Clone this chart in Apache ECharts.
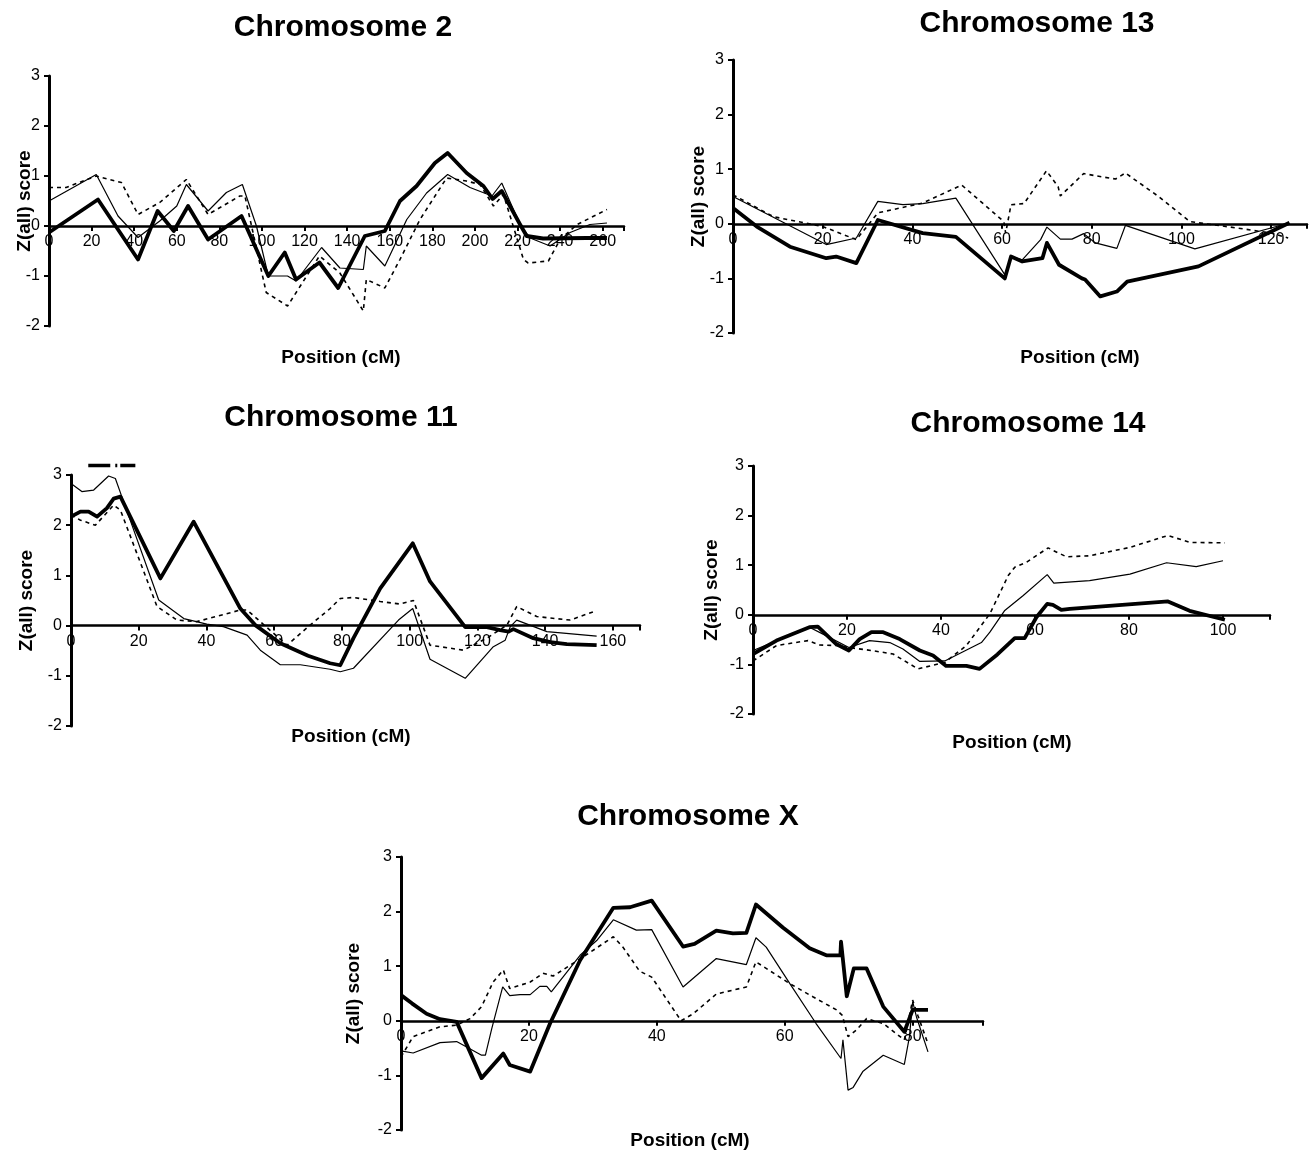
<!DOCTYPE html>
<html>
<head>
<meta charset="utf-8">
<script src="https://cdn.jsdelivr.net/npm/echarts@6.0.0/dist/echarts.min.js"></script>
<style>
html,body{margin:0;padding:0;background:#fff;}
#chart{width:1310px;height:1151px;}
</style>
</head>
<body>
<div id="chart"></div>
<script>
// ---------- DATA: [position (cM), Z(all) score] ----------
const chr2Thick = [[0,-0.13],[23,0.53],[41.8,-0.67],[51,0.3],[58.6,-0.1],[65.3,0.4],[74.7,-0.27],[90.4,0.2],[103,-1.0],[110.7,-0.53],[116,-1.07],[127,-0.73],[135.8,-1.24],[148.3,-0.2],[157.7,-0.1],[164.8,0.5],[172.6,0.8],[181.2,1.26],[187.2,1.46],[196.1,1.06],[204,0.8],[208.3,0.54],[212.6,0.7],[221.2,0.03],[224.3,-0.2],[232,-0.25],[252.5,-0.24],[262,-0.24]];
const chr2Thin = [[0,0.5],[22.2,1.03],[32.4,0.2],[41.8,-0.23],[52,0.1],[60,0.4],[64.5,0.83],[74.7,0.3],[83.3,0.67],[90.8,0.83],[97.4,0],[103,-1.0],[112,-1.0],[116,-1.1],[128,-0.43],[136.6,-0.84],[147.6,-0.87],[149,-0.4],[157.7,-0.8],[168,0.13],[177.3,0.66],[187.2,1.03],[197.7,0.77],[208,0.6],[212.6,0.86],[221.2,0.03],[225.9,-0.24],[235.3,-0.4],[244.7,-0.13],[254,0.03],[262,0.06]];
const chr2Dash = [[0,0.77],[8,0.77],[22.2,1.0],[34,0.87],[41.8,0.23],[52,0.47],[64.5,0.93],[74.7,0.23],[89.6,0.6],[92,0.6],[102,-1.33],[112,-1.6],[118,-1.2],[127,-0.6],[136.6,-0.94],[147.6,-1.7],[149,-1.07],[157.7,-1.24],[164.8,-0.67],[174.2,0.13],[186.7,0.96],[196,0.9],[202.4,0.83],[208.7,0.4],[213.4,0.63],[222.8,-0.67],[225,-0.74],[234.5,-0.7],[240,-0.27],[248,0.03],[262,0.33]];

const chr13Thick = [[0,0.29],[5.3,-0.05],[12.7,-0.42],[20.8,-0.63],[23,-0.6],[27.5,-0.72],[32.3,0.07],[42.3,-0.17],[49.7,-0.24],[60.6,-1.0],[62,-0.6],[64.5,-0.69],[69,-0.63],[70,-0.35],[72.7,-0.75],[77.8,-1.0],[78.5,-1.02],[81.9,-1.33],[85.6,-1.24],[87.9,-1.06],[103.8,-0.78],[124.1,0.02]];
const chr13Thin = [[0,0.5],[20.8,-0.38],[27.5,-0.26],[32.3,0.41],[37.9,0.35],[42.3,0.37],[49.7,0.47],[60.6,-0.93],[62,-0.6],[64.5,-0.66],[68.6,-0.29],[70,-0.06],[73,-0.28],[75.6,-0.28],[78.2,-0.18],[80.8,-0.35],[85.6,-0.45],[87.5,-0.03],[103,-0.46],[123.8,0.01]];
const chr13Dash = [[0,0.53],[9,0.13],[20,-0.05],[27.5,-0.29],[32.3,0.2],[42.3,0.38],[51,0.71],[60.4,0.04],[60.8,-0.17],[62,0.35],[64.9,0.37],[69.9,0.97],[72.5,0.68],[73,0.51],[78.2,0.92],[80.8,0.88],[85.3,0.82],[87.5,0.93],[94.9,0.5],[101.9,0.04],[112.7,-0.08],[120,-0.17],[123.8,-0.26]];

const chr11Thick = [[0,2.17],[2.8,2.27],[5.2,2.27],[7.7,2.17],[10.6,2.34],[12.6,2.53],[14.6,2.57],[26.4,0.94],[36.2,2.07],[50,0.34],[54.4,0.01],[61.8,-0.35],[70,-0.6],[76.5,-0.75],[79.5,-0.79],[83.4,-0.25],[91.3,0.74],[100.9,1.64],[106,0.88],[116.4,-0.03],[122.8,-0.03],[126.7,-0.09],[129.2,-0.12],[130.6,-0.07],[136.5,-0.25],[141.5,-0.33],[146.4,-0.37],[155.2,-0.39]];
const chr11Thin = [[0,2.83],[3.2,2.67],[6.7,2.7],[11.1,2.98],[13.1,2.93],[15,2.57],[25.9,0.51],[33.3,0.14],[40.1,0.03],[45,-0.02],[52,-0.19],[55.9,-0.49],[61.8,-0.78],[67.7,-0.78],[76.5,-0.87],[79.5,-0.92],[83.4,-0.85],[96.7,0.11],[100.9,0.34],[106,-0.67],[116.4,-1.05],[124.7,-0.42],[128.2,-0.29],[129.7,-0.02],[131.6,0.11],[140.5,-0.12],[155.2,-0.21]];
const chr11Dash = [[0,2.2],[2.8,2.1],[7.2,2.0],[12.6,2.4],[14.6,2.3],[25.4,0.38],[31.3,0.11],[37.2,0.08],[50,0.31],[52,0.31],[63.8,-0.39],[70.6,0.01],[76.5,0.34],[79.5,0.54],[83.4,0.56],[91.3,0.48],[97.2,0.43],[101.1,0.5],[106,-0.39],[115.9,-0.49],[122.8,-0.25],[128.7,0.01],[131.6,0.38],[137.5,0.18],[147.4,0.11],[155.2,0.3]];
const chr11Marker = [[5.1,3.19],[19,3.19]];

const chr14Thick = [[0,-0.79],[5,-0.52],[12,-0.25],[13.8,-0.24],[17.7,-0.59],[20.4,-0.72],[22.7,-0.49],[25.2,-0.35],[27.7,-0.35],[31.2,-0.49],[35.5,-0.72],[38.3,-0.82],[41.1,-1.03],[45.4,-1.03],[48.2,-1.09],[52,-0.8],[55.7,-0.47],[57.8,-0.47],[60.3,-0.05],[62.6,0.22],[63.8,0.2],[65.6,0.1],[67.4,0.12],[88.3,0.27],[92.9,0.08],[100.4,-0.1]];
const chr14Thin = [[0,-0.72],[12,-0.25],[14.9,-0.39],[20.4,-0.66],[24.8,-0.52],[29.1,-0.56],[31.9,-0.69],[35.5,-0.94],[40.8,-0.93],[48.6,-0.56],[50.4,-0.35],[53.5,0.08],[57.5,0.39],[62.6,0.81],[64,0.64],[71.6,0.69],[80.2,0.82],[88,1.05],[94.3,0.97],[100,1.09]];
const chr14Dash = [[0,-0.93],[5,-0.62],[11.7,-0.52],[14.2,-0.61],[17.7,-0.62],[20.4,-0.66],[25.2,-0.72],[29.8,-0.79],[35.1,-1.09],[40.8,-0.96],[45.4,-0.62],[50.4,0.02],[54.3,0.79],[55.7,0.96],[58.2,1.06],[62.8,1.35],[63.8,1.3],[66.7,1.17],[71.6,1.19],[80.2,1.36],[88.3,1.6],[92.9,1.46],[100.4,1.45]];

const chrXThick = [[0,0.47],[1.7,0.32],[4,0.13],[6.1,0.03],[8.7,-0.02],[12.6,-1.05],[16,-0.6],[17,-0.81],[20.2,-0.93],[23.3,-0.05],[28,1.11],[33.2,2.07],[35.8,2.08],[39.2,2.2],[44.1,1.36],[45.9,1.41],[49.3,1.65],[51.9,1.6],[54,1.61],[55.5,2.13],[59.7,1.71],[63.9,1.33],[66.5,1.2],[68.7,1.2],[68.8,1.45],[69.7,0.45],[70.8,0.96],[72.8,0.96],[75.4,0.26],[78.7,-0.2],[80,0.2],[82.4,0.2]];
const chrXThin = [[0,-0.55],[1.9,-0.59],[6.1,-0.4],[8.7,-0.38],[12.6,-0.63],[13.2,-0.63],[14.2,-0.14],[15.9,0.62],[17,0.46],[18.6,0.48],[20.2,0.48],[21.7,0.63],[22.8,0.63],[23.5,0.53],[28,1.2],[30.6,1.47],[33.2,1.85],[36.8,1.66],[39.2,1.67],[44.1,0.62],[49.3,1.14],[54,1.03],[55.5,1.52],[57.1,1.35],[60.8,0.68],[64.9,-0.05],[68.8,-0.69],[69.1,-0.35],[69.9,-1.27],[70.7,-1.22],[72.2,-0.93],[75.4,-0.63],[78.7,-0.8],[79.5,-0.29],[80,0.35],[80.6,0.07],[82.4,-0.57]];
const chrXDash = [[0,-0.66],[1.9,-0.29],[6.1,-0.11],[8.7,-0.08],[10.8,0.04],[12.6,0.26],[14.4,0.71],[16,0.93],[17,0.59],[20.2,0.71],[22.2,0.87],[23.8,0.82],[28.5,1.17],[33.2,1.54],[34.7,1.35],[37.3,0.91],[39.2,0.8],[43.8,0.0],[45.7,0.13],[49.3,0.49],[54,0.62],[55.5,1.08],[60.8,0.68],[64.4,0.44],[68.1,0.2],[69,0.1],[69.9,-0.29],[71.2,-0.17],[72.8,0.04],[75.4,-0.05],[78.7,-0.35],[80,0.38],[80.8,0.1],[82.4,-0.42]];

const titles = ['Chromosome 2','Chromosome 13','Chromosome 11','Chromosome 14','Chromosome X'];
const yName = 'Z(all) score';
const xName = 'Position (cM)';
const yMin = -2, yMax = 3, yStep = 1, xStep = 20;
const xMaxes = [270, 128, 168, 110, 91];

// ---------- LAYOUT ----------
const FONT = 'Arial, "Liberation Sans", Helvetica, sans-serif';
const layout = [
  {left:49, top:76, width:575, height:250, tx:343, ty:28, px:341, py:358, gap:15},
  {left:733, top:60, width:576, height:273, tx:1037, ty:24, px:1080, py:358, gap:25},
  {left:71, top:475, width:569, height:251, tx:341, ty:418, px:351, py:737, gap:35},
  {left:753, top:466, width:517, height:248, tx:1028, ty:424, px:1012, py:743, gap:32},
  {left:401, top:857, width:582, height:273, tx:688, ty:817, px:690, py:1141, gap:38}
];
const seriesSets = [
  [chr2Thin, chr2Dash, chr2Thick],
  [chr13Thin, chr13Dash, chr13Thick],
  [chr11Thin, chr11Dash, chr11Thick],
  [chr14Thin, chr14Dash, chr14Thick],
  [chrXThin, chrXDash, chrXThick]
];

const grid = [], xAxis = [], yAxis = [], series = [], graphic = [];
layout.forEach((L, i) => {
  grid.push({left:L.left, top:L.top, width:L.width, height:L.height, containLabel:false});
  // x axis drawn at Z = 0: shift the bottom axis up by the share of the range below zero
  const zeroOffset = -L.height * (0 - yMin) / (yMax - yMin);
  xAxis.push({
    type:'value', gridIndex:i, min:0, max:xMaxes[i], interval:xStep,
    position:'bottom', offset:zeroOffset,
    axisLine:{show:true, onZero:false, lineStyle:{color:'#000', width:2.5}},
    axisTick:{show:true, length:5, lineStyle:{color:'#000', width:2}},
    axisLabel:{color:'#000', fontSize:16, fontFamily:FONT, margin:8,
      formatter: v => (v % xStep === 0 ? String(v) : '')},
    splitLine:{show:false}
  });
  yAxis.push({
    type:'value', gridIndex:i, min:yMin, max:yMax, interval:yStep,
    axisLine:{show:true, onZero:false, lineStyle:{color:'#000', width:3}},
    axisTick:{show:true, length:5, lineStyle:{color:'#000', width:2}},
    axisLabel:{color:'#000', fontSize:16, fontFamily:FONT, margin:9},
    splitLine:{show:false},
    name:yName, nameLocation:'middle', nameRotate:90, nameGap:L.gap, nameMoveOverlap:false,
    nameTextStyle:{color:'#000', fontSize:19, fontWeight:'bold', fontFamily:FONT}
  });
  const [thin, dash, thick] = seriesSets[i];
  series.push({type:'line', xAxisIndex:i, yAxisIndex:i, data:thin, showSymbol:false, symbol:'none',
    lineStyle:{color:'#000', width:1.2}, animation:false, z:3});
  series.push({type:'line', xAxisIndex:i, yAxisIndex:i, data:dash, showSymbol:false, symbol:'none',
    lineStyle:{color:'#000', width:1.6, type:[4,4]}, animation:false, z:3});
  series.push({type:'line', xAxisIndex:i, yAxisIndex:i, data:thick, showSymbol:false, symbol:'none',
    lineStyle:{color:'#000', width:3.8, join:'round'}, animation:false, z:4});
  graphic.push({type:'text', x:L.tx, y:L.ty, style:{text:titles[i], fill:'#000',
    font:'bold 30px ' + FONT, textAlign:'center', textVerticalAlign:'middle'}});
  graphic.push({type:'text', x:L.px, y:L.py, style:{text:xName, fill:'#000',
    font:'bold 19px ' + FONT, textAlign:'center', textVerticalAlign:'middle'}});
});
// significance marker above Chromosome 11
series.push({type:'line', xAxisIndex:2, yAxisIndex:2, data:chr11Marker, showSymbol:false, symbol:'none',
  clip:false, lineStyle:{color:'#000', width:3.5, type:[22,5,2,3], cap:'butt'}, animation:false, z:5});

const chart = echarts.init(document.getElementById('chart'), null, {renderer:'canvas'});
chart.setOption({
  backgroundColor:'#fff',
  animation:false,
  textStyle:{fontFamily:FONT},
  grid, xAxis, yAxis, series, graphic
});
</script>
</body>
</html>
